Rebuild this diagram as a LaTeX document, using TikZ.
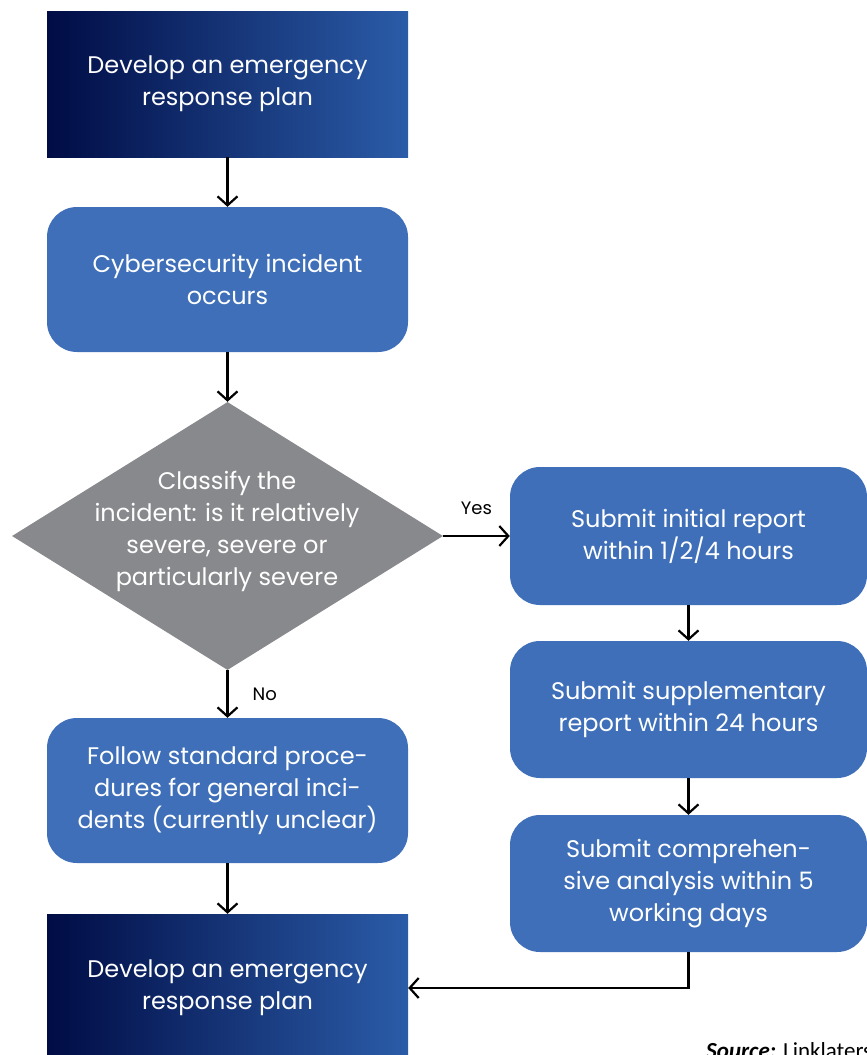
\documentclass[tikz,border=0pt]{standalone}
\usepackage{fontspec}
\setmainfont{Poppins}
\newfontfamily\notefont{Carlito}
\usetikzlibrary{shapes.geometric}
\usetikzlibrary{arrows.meta}
\definecolor{navyL}{HTML}{000C45}
\definecolor{navyM}{HTML}{002A66}
\definecolor{navyR}{HTML}{2B5CA8}
\definecolor{stepblue}{HTML}{3E6FB8}
\definecolor{stepgray}{HTML}{88898C}
\tikzset{
  navybox/.style={rectangle, draw=none, left color=navyL, middle color=navyM, right color=navyR,
    text=white, align=center, inner sep=0pt, minimum width=361pt, minimum height=146pt,
    font=\fontsize{24}{32}\selectfont},
  bluebox/.style={rectangle, rounded corners=30pt, fill=stepblue, text=white, align=center,
    inner sep=0pt, minimum width=361pt, minimum height=145pt, font=\fontsize{24}{32}\selectfont},
  decision/.style={diamond, fill=stepgray, inner sep=0pt, minimum width=431pt, minimum height=268pt},
  decisiontext/.style={text=white, align=center, inner sep=0pt, font=\fontsize{24}{32}\selectfont},
  flow/.style={line width=2.2pt, -{Straight Barb[length=9pt,width=20pt,line width=2.2pt]}},
  tag/.style={font=\fontsize{18}{20}\selectfont, text=black, inner sep=0pt}
}
\newcommand{\stepnode}[5]{\node[#1] (#2) at ( #3 , #4 ) {#5};}
\begin{document}
\begin{tikzpicture}[x=1pt,y=-1pt]
        \useasboundingbox (0,0) rectangle (867,1055);
        % left column
        \stepnode{navybox}{plan}{227.5}{84}{Develop an emergency\\response plan}
        \stepnode{bluebox}{incident}{227.5}{279.5}{Cybersecurity incident\\occurs}
        \stepnode{decision}{classify}{227.5}{536}{}
        \stepnode{decisiontext}{classifytext}{227}{531}{Classify the\\incident: is it relatively\\severe, severe or\\particularly severe}
        \stepnode{bluebox}{standard}{227.5}{790.5}{Follow standard proce-\\dures for general inci-\\dents (currently unclear)}
        \stepnode{navybox, minimum height=148pt}{response}{227.5}{988}{Develop an emergency\\response plan}
        % right column
        \stepnode{bluebox, minimum width=357pt, minimum height=138pt}{initial}{688.5}{536}{Submit initial report\\within 1/2/4 hours}
        \stepnode{bluebox, minimum width=357pt, minimum height=137pt}{supplement}{688.5}{709.5}{Submit supplementary\\report within 24 hours}
        \stepnode{bluebox, minimum width=357pt, minimum height=137pt}{analysis}{688.5}{883.5}{Submit comprehen-\\sive analysis within 5\\working days}

        % connectors
        \draw[flow] (plan.south) -- (incident.north);
        \draw[flow] (incident.south) -- (classify.north);
        \draw[flow] (classify.east) -- node[tag, above=20pt] (yes) {Yes} (initial.west);
        \draw[flow] (classify.south) -- node[tag, right=24pt] (no) {No} (standard.north);
        \draw[flow] (standard.south) -- (response.north);
        \draw[flow] (initial.south) -- (supplement.north);
        \draw[flow] (supplement.south) -- (analysis.north);
        \draw[flow] (analysis.south) |- (response.east);

        \node[anchor=base west, font=\notefont\fontsize{23}{25}\selectfont, inner sep=0pt] (source) at (706,1058) {\textbf{\textit{Source:}} Linklaters};
    \end{tikzpicture}
\end{document}
